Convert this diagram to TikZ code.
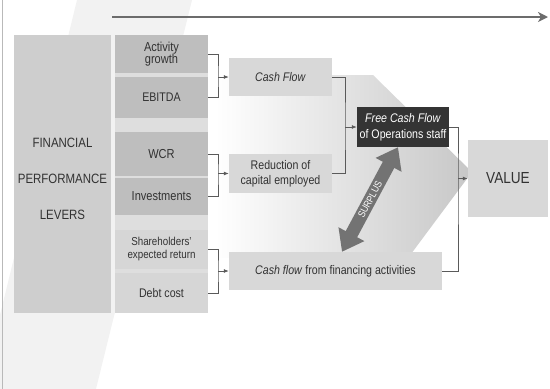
\documentclass[tikz,border=0pt]{standalone}
\usepackage{fontspec}
\setmainfont{Liberation Sans}[FakeStretch=0.85]
\usetikzlibrary{arrows.meta,calc}

% Colors
\definecolor{textgray}{RGB}{50,50,50}
\definecolor{leverfill}{RGB}{206,206,206}
\definecolor{darkfill}{RGB}{190,190,190}
\definecolor{lightfill}{RGB}{214,214,214}
\definecolor{colfill}{RGB}{222,222,222}
\definecolor{flowfill}{RGB}{216,216,216}
\definecolor{fcffill}{RGB}{52,52,52}
\definecolor{linegray}{RGB}{90,90,90}
\definecolor{swoosh}{RGB}{242,242,242}

\tikzset{
  box/.style={rectangle, inner sep=1pt, align=center, text=textgray,
    font=\fontsize{12.5}{14.5}\selectfont},
  lever/.style={box, fill=darkfill, minimum width=93pt},
  flowbox/.style={box, fill=flowfill, minimum height=38pt},
  link/.style={draw=linegray, line width=0.8pt},
  linkarrow/.style={link, -{Latex[length=5pt,width=4pt]}},
}

\begin{document}
\begin{tikzpicture}[x=1pt, y=-1pt]

    \useasboundingbox (0,0) rectangle (550,389);

    % background band and gradient arrow
    \fill[swoosh] (77,0) -- (192,0) -- (96,389) -- (0,389) -- (0,315) -- cycle;
    \draw[gray!55, line width=1pt] (2.5,0) -- (2.5,389);
    \shade[left color=white, right color=black!22]
        (215,75) -- (373,75) -- (472,172) -- (408,258) -- (215,258) -- cycle;

    % time line
    \coordinate (tstart) at (112,17);
    \coordinate (tend) at (548,17);
    \draw[draw=gray!85!black, line width=1.5pt, -{Stealth[length=10pt,width=10pt,inset=3pt]}] (tstart) -- (tend);

    % Levers
    \node[box, fill=leverfill, minimum width=97pt, minimum height=278pt] (levers) at (62.5,174) {};
    \node[box, font=\fontsize{13.5}{36}\selectfont] at ($(levers.center)+(0,5)$)
        {FINANCIAL\\PERFORMANCE\\LEVERS};

    \fill[colfill] (115,35) rectangle (208,313);
    \node[lever, minimum height=38pt, font=\fontsize{13}{12.5}\selectfont] (act) at (161.5,54) {Activity\\growth};
    \node[lever, minimum height=41pt] (ebitda) at (161.5,97.5) {EBITDA};
    \node[lever, minimum height=44pt, font=\fontsize{13}{15}\selectfont] (wcr) at (161.5,154) {WCR};
    \node[lever, minimum height=37pt, font=\fontsize{13}{15}\selectfont] (inv) at (161.5,196.5) {Investments};
    \node[lever, fill=lightfill, minimum height=39pt, font=\fontsize{11.5}{13}\selectfont] (share) at (161.5,249.5) {Shareholders'\\expected return};
    \node[lever, fill=lightfill, minimum height=40pt, font=\fontsize{12.5}{14}\selectfont] (debt) at (161.5,293) {Debt cost};

    % Flows
    \node[flowbox, minimum width=103pt] (cash) at (280.5,77) {\textit{Cash Flow}};
    \node[flowbox, minimum width=103pt, minimum height=39pt, font=\fontsize{12.5}{15}\selectfont] (reduc) at (280.5,173.5) {Reduction of\\capital employed};
    \node[flowbox, minimum width=213pt] (fin) at (335.5,271) {\textit{Cash flow} from financing activities};
    \node[box, fill=fcffill, text=white, minimum width=92pt, minimum height=40pt, font=\fontsize{12.5}{16}\selectfont] (fcf) at (403,127)
        {\textit{Free Cash Flow}\\of Operations staff};
    \node[box, fill=flowfill, minimum width=80pt, minimum height=77pt, font=\fontsize{16}{18}\selectfont] (value) at (508,178.5) {VALUE};

    % Connectors
    \coordinate (j1) at (218,77);
    \coordinate (j2) at (218,173.5);
    \coordinate (j3) at (218,271);
    \coordinate (j4) at (345,127);
    \coordinate (j5) at (458,178.5);

    \draw[link] (act.east) -| (j1) |- (ebitda.east);
    \draw[linkarrow] (j1) -- (cash.west);
    \draw[link] (wcr.east) -| (j2) |- (inv.east);
    \draw[linkarrow] (j2) -- (reduc.west);
    \draw[link] (share.east) -| (j3) |- (debt.east);
    \draw[linkarrow] (j3) -- (fin.west);
    \draw[link] (cash.east) -| (j4) |- (reduc.east);
    \draw[linkarrow] (j4) -- (fcf.west);
    \draw[link] (fcf.east) -| (j5) |- (fin.east);
    \draw[linkarrow] (j5) -- (value.west);

    % Surplus
    \coordinate (sup1) at ($(fcf.south)+(-5,0)$);
    \coordinate (sup2) at ($(fin.north)+(6.5,0)$);
    \draw[draw=gray!90!black, line width=13pt,
        {Triangle[length=20pt,width=28pt]}-{Triangle[length=20pt,width=28pt]}]
        (sup1) -- (sup2)
        node[midway, sloped, text=white, font=\fontsize{10}{10}\selectfont] {SURPLUS};

\end{tikzpicture}
\end{document}
